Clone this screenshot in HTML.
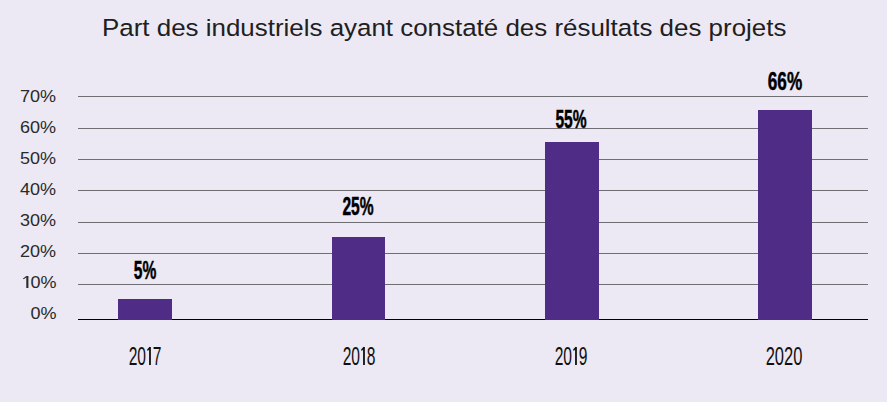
<!DOCTYPE html>
<html><head><meta charset="utf-8">
<style>
html,body{margin:0;padding:0;}
body{width:887px;height:402px;background:#ece9f4;position:relative;overflow:hidden;font-family:"Liberation Sans",sans-serif;color:#111;}
.t{position:absolute;white-space:nowrap;line-height:1;}
.title{color:#202020;left:102.3px;top:16px;font-size:24.5px;transform-origin:0 0;transform:scaleX(1.058);}
.yl{color:#2a2a2a;position:absolute;right:830.7px;font-size:17px;line-height:1;text-align:right;white-space:nowrap;transform:scaleX(1.06);transform-origin:100% 0;}
.g{position:absolute;left:78px;width:790px;height:1px;background:#6f6e73;}
.axis{position:absolute;left:78px;width:790px;top:319px;height:1px;background:#000;}
.bar{position:absolute;background:#4f2d86;bottom:82px;}
.v{position:absolute;font-weight:bold;-webkit-text-stroke:0.5px #000;color:#000;font-size:26px;line-height:1;transform:translateX(-50%) scaleX(0.6);transform-origin:50% 0;white-space:nowrap;}
.x{color:#111;position:absolute;font-size:26px;line-height:1;transform:translateX(-50%) scaleX(0.6);transform-origin:50% 0;white-space:nowrap;}
.one{display:inline-block;position:relative;width:11px;height:18px;}
.one::before{content:"";position:absolute;right:3px;top:0;bottom:0;width:2.9px;background:#111;}
.one::after{content:"";position:absolute;right:5.5px;top:0.2px;width:4.5px;height:2.4px;background:#111;transform:rotate(-32deg);transform-origin:100% 0;}
.one2{display:inline-block;position:relative;width:7px;height:12px;}
.one2::before{content:"";position:absolute;right:2.3px;top:0;bottom:0;width:1.4px;background:#2a2a2a;}
.one2::after{content:"";position:absolute;right:3.4px;top:0.1px;width:4.2px;height:1.4px;background:#2a2a2a;transform:rotate(-38deg);transform-origin:100% 0;}
</style></head><body>
<div class="t title">Part des industriels ayant constaté des résultats des projets</div>

<div class="yl" style="top:88px">70%</div>
<div class="yl" style="top:119px">60%</div>
<div class="yl" style="top:150px">50%</div>
<div class="yl" style="top:181px">40%</div>
<div class="yl" style="top:212px">30%</div>
<div class="yl" style="top:243px">20%</div>
<div class="yl" style="top:274px"><i class="one2"></i>0%</div>
<div class="yl" style="top:305px">0%</div>

<div class="g" style="top:96px"></div>
<div class="g" style="top:128px"></div>
<div class="g" style="top:159px"></div>
<div class="g" style="top:190px"></div>
<div class="g" style="top:222px"></div>
<div class="g" style="top:253px"></div>
<div class="g" style="top:284px"></div>
<div class="axis"></div>

<div class="bar" style="left:118px;width:54px;top:299px"></div>
<div class="bar" style="left:332px;width:53px;top:237px"></div>
<div class="bar" style="left:545px;width:54px;top:142px"></div>
<div class="bar" style="left:758px;width:54px;top:110px"></div>

<div class="v" style="left:145px;top:257px">5%</div>
<div class="v" style="left:358px;top:193px">25%</div>
<div class="v" style="left:571px;top:106px">55%</div>
<div class="v" style="left:785px;top:68px;transform:translateX(-50%) scaleX(0.66)">66%</div>

<div class="x" style="left:145.3px;top:343px;transform:translateX(-50%) scaleX(0.6)">20<i class="one"></i>7</div>
<div class="x" style="left:358.8px;top:343px;transform:translateX(-50%) scaleX(0.6)">20<i class="one"></i>8</div>
<div class="x" style="left:571.3px;top:343px;transform:translateX(-50%) scaleX(0.6)">20<i class="one"></i>9</div>
<div class="x" style="left:784.4px;top:343px;transform:translateX(-50%) scaleX(0.635)">2020</div>
</body></html>
